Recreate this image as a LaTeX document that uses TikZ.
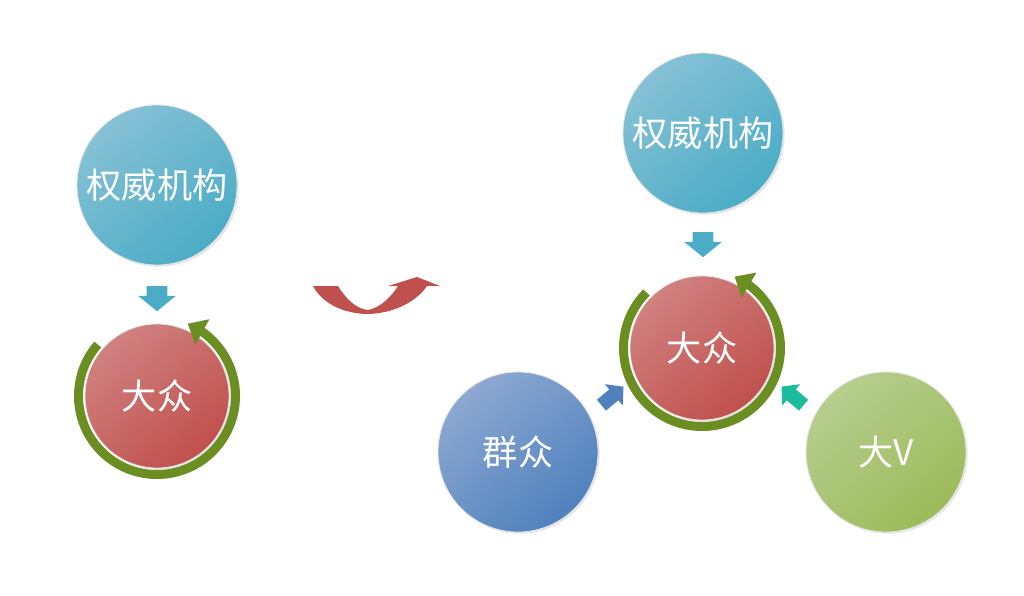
\documentclass[tikz,border=0pt]{standalone}
\usepackage{fontspec}
\newfontfamily\cjk{Noto Sans CJK SC}
\usepackage{tikz}
\usetikzlibrary{
  arrows.meta,
  bending,
  positioning,
  calc,
  shadows,
  shapes.arrows
}
\definecolor{azul}{HTML}{4BACC6}
\definecolor{azulclaro}{HTML}{86C1D5}
\definecolor{verm}{HTML}{C0504D}
\definecolor{vermclaro}{HTML}{D08180}
\definecolor{anil}{HTML}{4F81BD}
\definecolor{anilclaro}{HTML}{8DA8D1}
\definecolor{oliva}{HTML}{9BBB59}
\definecolor{olivaclaro}{HTML}{B6CE8F}
\definecolor{anel}{HTML}{6B8E23}
\definecolor{turq}{HTML}{1ABC9C}

\begin{document}
\begin{tikzpicture}[
      x=0.025cm, y=0.025cm,
      bola/.style={circle, inner sep=0pt, minimum size=4cm,
                   draw=gray!20, line width=0.6pt,
                   drop shadow={opacity=0.2, shadow xshift=1.2pt, shadow yshift=-1.2pt},
                   text=white, font=\cjk\fontsize{25}{30}\selectfont},
      fonte/.style={bola, top color=azulclaro, bottom color=azul, shading angle=40},
      massa/.style={bola, minimum size=3.6cm, top color=vermclaro, bottom color=verm,
                    shading angle=40},
      povo/.style={bola, top color=anilclaro, bottom color=anil, shading angle=40},
      grande/.style={bola, top color=olivaclaro, bottom color=oliva, shading angle=40},
      anelseta/.style={anel, line width=0.225cm,
                       -{Triangle[width=0.7cm, length=0.42cm]}},
      bloco/.style={single arrow, draw=none, inner xsep=0pt,
                    single arrow head indent=0pt},
      desce/.style={bloco, fill=azul, inner ysep=0.25cm,
                    minimum height=0.625cm, minimum width=0.925cm,
                    single arrow head extend=0.2125cm, single arrow tip angle=102,
                    rotate=-90},
      lado/.style={bloco, inner ysep=0.17cm, minimum height=0.72cm, minimum width=0.68cm,
                   single arrow head extend=0.17cm, single arrow tip angle=95}
  ]
      \useasboundingbox (0,0) rectangle (1024,595);

      % Antes: modelo de cima para baixo
      \node[fonte] (fonte1) at (157,410) {权威机构};
      \node[massa] (massa1) at (157,199) {大众};
      \node[desce] (seta1) at (157,300.5) {};
      \draw[anelseta] ($(massa1)+(139:78.5)$) arc[start angle=139, end angle=427, radius=78.5];

      % Transicao
      \fill[verm] (313,309) -- (338,309)
          .. controls (348,293) and (358,286) .. (368,285)
          .. controls (380,287) and (392,299) .. (398,309)
          -- (388,309) -- (417,318) -- (440,309) -- (427,309)
          .. controls (418,295) and (395,281) .. (366,281)
          .. controls (342,282) and (322,292) .. (313,309) -- cycle;

      % Depois: varias fontes
      \node[fonte] (fonte2) at (703,462) {权威机构};
      \node[massa] (massa2) at (702,247) {大众};
      \node[povo] (povo) at (518,143) {群众};
      \node[grande] (bigv) at (886,143) {大V};
      \node[desce] (seta2) at (703,354.5) {};
      \node[lado, fill=anil, rotate=40] (seta3) at (610,197) {};
      \node[lado, fill=turq, rotate=140] (seta4) at (795,197) {};
      \draw[anelseta] ($(massa2)+(135:78.5)$) arc[start angle=135, end angle=425.5, radius=78.5];
  \end{tikzpicture}
\end{document}
